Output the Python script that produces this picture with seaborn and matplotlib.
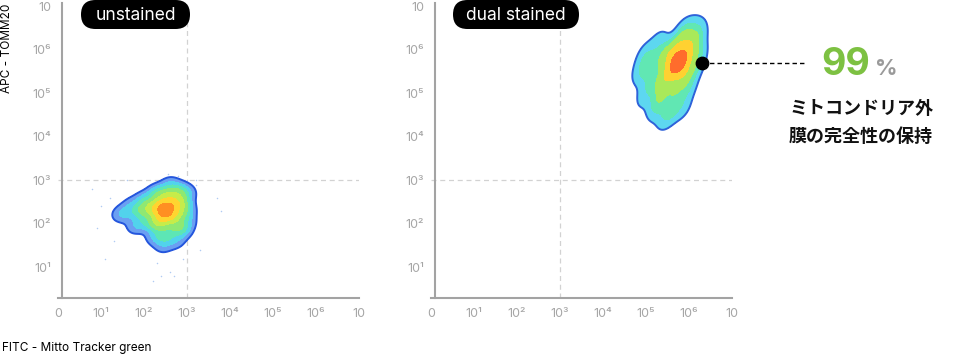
import numpy as np
import pandas as pd
import seaborn as sns
import matplotlib.pyplot as plt
from matplotlib.colors import ListedColormap, BoundaryNorm
from matplotlib.patches import FancyBboxPatch
from matplotlib.transforms import IdentityTransform

# ---------------- data (log10 units) ----------------
unst_x = [2.50, 2.35, 2.65, 2.45, 2.70, 2.15, 2.55, 2.85, 2.30, 2.75,
          1.90, 2.00, 2.30, 2.80, 2.95, 2.05, 2.50, 2.90, 1.55, 1.70,
          2.60, 3.00, 3.00, 1.80, 2.25, 2.45, 2.75, 1.40]
unst_y = [2.32, 2.40, 2.45, 2.15, 2.20, 2.35, 2.65, 2.50, 2.00, 1.95,
          2.30, 2.55, 2.70, 2.75, 2.30, 2.05, 1.75, 1.85, 2.25, 2.45,
          2.90, 2.70, 2.05, 1.95, 1.70, 1.50, 1.60, 2.20]
unst_w = [12, 6, 6, 6, 5, 4, 4, 4, 4, 3,
          3, 2, 3, 3, 3, 2, 3, 2, 1.6, 1.0,
          1.5, 1.5, 1.5, 1.5, 1.5, 1.2, 1.2, 0.7]

dual_x = [5.75, 5.60, 5.90, 5.65, 5.85, 5.40, 5.45, 6.05, 5.85, 6.10,
          5.35, 5.65, 5.15, 5.00, 6.20, 5.90, 5.25, 5.60, 6.20, 5.95,
          5.30, 4.90, 5.45, 6.10, 5.10, 5.85, 4.95]
dual_y = [5.70, 5.55, 5.85, 5.95, 5.45, 5.30, 5.85, 6.10, 6.20, 5.60,
          5.00, 5.05, 5.60, 5.85, 6.35, 6.40, 4.70, 4.65, 5.90, 5.15,
          6.15, 5.50, 4.45, 6.50, 5.20, 4.70, 4.90]
dual_w = [12, 6, 6, 5, 5, 4, 4, 4, 3, 3,
          3, 3, 2.5, 2, 2, 2, 2.5, 2.5, 2, 2.5,
          1.5, 2, 1.5, 1.0, 2, 1.5, 1]

sparse_x = [1.20, 1.00, 0.90, 1.30, 2.30, 2.60, 2.20, 2.70, 3.20, 3.30,
            3.70, 3.80, 2.80, 1.60, 0.80, 1.10, 2.40, 2.90, 3.20, 2.55]
sparse_y = [2.60, 2.40, 1.90, 1.60, 1.10, 0.90, 0.70, 0.80, 2.90, 1.40,
            2.60, 2.30, 3.10, 3.00, 2.80, 1.20, 0.80, 1.20, 3.00, 3.15]

x_ticks = [0, 1, 2, 3, 4, 5, 6, 7]
x_tick_labels = ["0", "10¹", "10²", "10³", "10⁴", "10⁵", "10⁶", "10"]
y_ticks = [1, 2, 3, 4, 5, 6, 7]
y_tick_labels = ["10¹", "10²", "10³", "10⁴", "10⁵", "10⁶", "10"]
gate = 3
marker_x, marker_y = 6.30, 5.70
pct_value = "99"
pct_sign = "%"
caption = ["ミトコンドリア外", "膜の完全性の保持"]
panel_titles = ["unstained", "dual stained"]

unst_levels = [0.03, 0.10, 0.20, 0.33, 0.49, 0.66, 0.85, 1.0]
unst_colors = ['#6b9ff2', '#52d3ec', '#5de6b5', '#8fe872', '#c6ec4a', '#ffd530', '#ff8f22']
dual_levels = [0.03, 0.14, 0.36, 0.62, 0.84, 1.0]
dual_colors = ['#5dd7f0', '#61e7b3', '#a9e95a', '#ffd131', '#ff6c2c']

# ---------------- figure ----------------
sns.set_theme(style='white')
plt.rcParams['font.family'] = ['Inter', 'Noto Sans CJK JP', 'DejaVu Sans']

W, H = 955, 356
fig = plt.figure(figsize=(W / 100, H / 100), dpi=100)


def rect(x0, x1, y0, y1):
    return [x0 / W, 1 - y1 / H, (x1 - x0) / W, (y1 - y0) / H]


ax1 = fig.add_axes(rect(58, 359, 3, 298))
ax2 = fig.add_axes(rect(431, 732, 3, 298))

for ax in (ax1, ax2):
    ax.axvline(gate, color='#d2d2d2', lw=0.9, ls=(0, (4, 3)), zorder=0)
    ax.axhline(gate, color='#d2d2d2', lw=0.9, ls=(0, (4, 3)), zorder=0)

ax1.scatter(sparse_x, sparse_y, s=1.2, color='#8fb5ee', alpha=0.7, lw=0, zorder=1)


def density(ax, xs, ys, ws, levels, colors, edge, bw):
    xs = np.asarray(xs, float)
    ys = np.asarray(ys, float)
    ws = np.asarray(ws, float)
    n_before = len(ax.collections)
    sns.kdeplot(x=xs, y=ys, weights=ws, ax=ax, fill=True,
                levels=levels, cmap=ListedColormap(colors), bw_method=bw)
    cset = ax.collections[n_before]
    cset.set_norm(BoundaryNorm(cset.levels, len(colors)))
    sns.kdeplot(x=xs, y=ys, weights=ws, ax=ax, fill=False,
                levels=[levels[0]], cmap=ListedColormap([edge, edge]),
                linewidths=1.4, bw_method=bw)


density(ax1, unst_x, unst_y, unst_w, unst_levels, unst_colors, '#2556dd', 0.45)
density(ax2, dual_x, dual_y, dual_w, dual_levels, dual_colors, '#2f62d9', 0.45)

for ax in (ax1, ax2):
    ax.set_xlim(0, 7)
    ax.set_ylim(0.30, 7.07)
    ax.set_xticks(x_ticks)
    ax.set_xticklabels(x_tick_labels)
    ax.set_yticks(y_ticks)
    ax.set_yticklabels(y_tick_labels)
    ax.tick_params(axis='both', length=0, labelsize=9, labelcolor='#a6a6a6')
    ax.tick_params(axis='x', pad=7)
    ax.tick_params(axis='y', pad=8)
    ax.set_xlabel('')
    ax.set_ylabel('')
    for s in ('top', 'right'):
        ax.spines[s].set_visible(False)
    for s in ('left', 'bottom'):
        ax.spines[s].set_color('#a3a3a3')
        ax.spines[s].set_linewidth(1.5)
    ax.spines['left'].set_position(('data', 0.1))
    ax.set_facecolor('none')
    ax.grid(False)

# annotation marker and dashed leader
ax2.scatter([marker_x], [marker_y], s=80, color='black', zorder=6, clip_on=False)
leader_end_x = 8.7
ax2.plot([marker_x, leader_end_x], [marker_y, marker_y], color='black', lw=1,
         ls=(0, (3.2, 2.2)), clip_on=False, zorder=5)

# panel badges
for (x0, x1), title in zip([(81, 190), (453, 579)], panel_titles):
    fig.add_artist(FancyBboxPatch((x0, H - 29), x1 - x0, 29,
                                  boxstyle='round,pad=0,rounding_size=14.5',
                                  transform=IdentityTransform(), fc='black', ec='none'))
    fig.text((x0 + x1) / 2 / W, 1 - 15 / H, title, color='white', fontsize=12.5,
             ha='center', va='center')

# axis titles
fig.text(7 / W, 1 - 48 / H, 'APC - TOMM20', rotation=90, ha='center', va='center',
         fontsize=8.5, color='black')
fig.text(2 / W, 1 - 348 / H, 'FITC - Mitto Tracker green', ha='left', va='center',
         fontsize=8.5, color='black')

# percentage and caption
fig.text(821 / W, 1 - 75 / H, pct_value, fontsize=27, weight='bold', color='#7dc142',
         ha='left', va='baseline')
fig.text(875 / W, 1 - 75 / H, pct_sign, fontsize=16, weight='bold', color='#9a9a9a',
         ha='left', va='baseline')
for i, line in enumerate(caption):
    fig.text(789 / W, 1 - (109 + 27 * i) / H, line, fontsize=13, weight='bold',
             ha='left', va='center', color='#111111',
             family=['Noto Sans CJK JP', 'DejaVu Sans'])

fig.savefig('out.png', dpi=100)
